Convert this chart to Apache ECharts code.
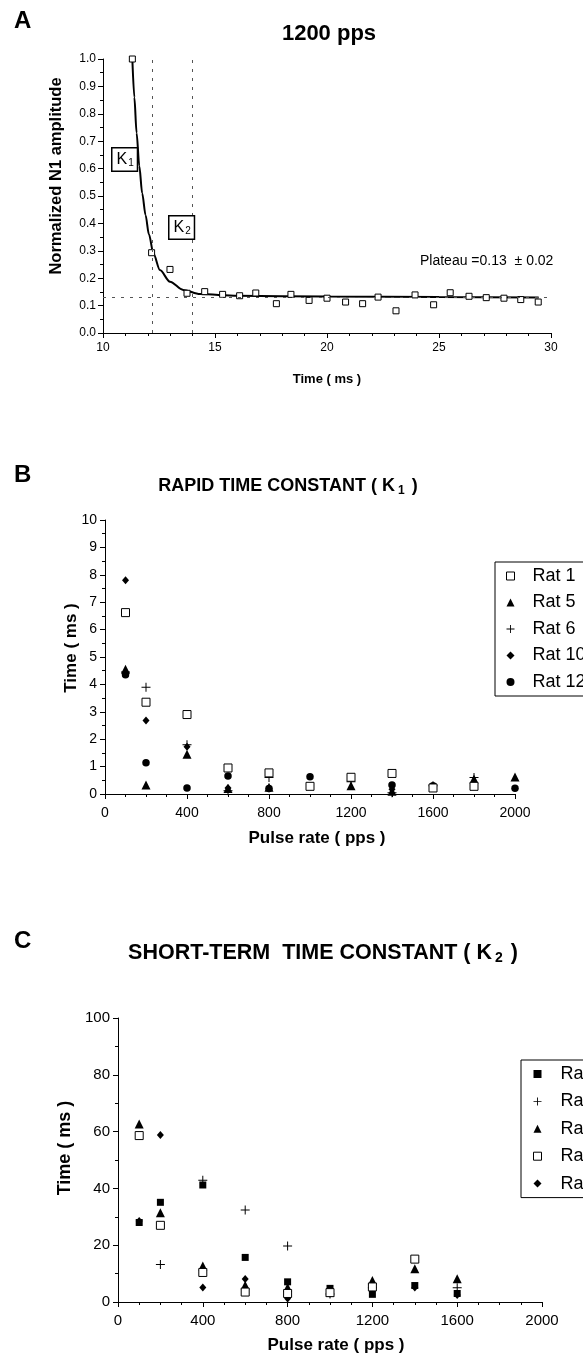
<!DOCTYPE html>
<html>
<head>
<meta charset="utf-8">
<script src="https://cdn.jsdelivr.net/npm/echarts@6/dist/echarts.min.js"></script>
<style>
html, body { margin: 0; padding: 0; background: #fff; }
#main { width: 583px; height: 1361px; }
</style>
</head>
<body>
<div id="main"></div>
<script>
// ---- panel A : 1200 pps, normalized N1 amplitude vs time
var timeA = [11.31, 12.17, 12.99, 13.75, 14.54, 15.34, 16.10, 16.82, 17.74, 18.39, 19.2, 20.0,
  20.83, 21.59, 22.28, 23.08, 23.93, 24.76, 25.5, 26.34, 27.11, 27.9, 28.65, 29.43];
var ampA = [1.0, 0.293, 0.232, 0.145, 0.151, 0.141, 0.136, 0.146, 0.107, 0.141, 0.119, 0.127,
  0.113, 0.107, 0.131, 0.081, 0.139, 0.103, 0.147, 0.134, 0.129, 0.127, 0.122, 0.113];
// fitted curve
var fitTime = [11.31, 11.40, 11.50, 11.62, 11.75, 11.90, 12.05, 12.25, 12.54, 12.99, 13.58, 14.33, 16.0, 20.0, 25.0, 29.45];
var fitAmp = [1.0, 0.86, 0.73, 0.61, 0.51, 0.43, 0.36, 0.29, 0.23, 0.187, 0.157, 0.142, 0.136, 0.133, 0.131, 0.130];
var k1Line = 12.2;
var k2Line = 14.0;
var plateau = 0.13;

// ---- panel B : rapid time constant K1
var rateB = [100, 200, 400, 600, 800, 1000, 1200, 1400, 1600, 1800, 2000];
var rat1B  = [6.62, 3.35, 2.9, 0.95, 0.77, 0.28, 0.61, 0.75, 0.22, 0.28, null];
var rat5B  = [4.55, 0.33, 1.45, 0.2, 0.25, null, 0.3, 0.1, null, 0.55, 0.62];
var rat6B  = [4.45, 3.9, 1.8, 0.12, 0.6, null, 0.45, 0.05, 0.3, 0.6, null];
var rat10B = [7.8, 2.68, 1.72, 0.22, 0.2, null, null, 0.17, null, null, null];
var rat12B = [4.35, 1.14, 0.22, 0.66, 0.2, 0.63, null, 0.33, 0.3, null, 0.21];

// ---- panel C : short-term time constant K2
var rateC = [100, 200, 400, 600, 800, 1000, 1200, 1400, 1600];
var rat3C  = [28.0, 35.1, 41.2, 15.7, 7.1, 4.8, 2.7, 5.8, 3.0];
var rat6C  = [null, 13.2, 42.9, 32.4, 19.7, 2.8, 5.0, null, 5.0];
var rat5C  = [62.7, 31.4, 12.7, 5.9, 5.1, 3.5, 7.6, 11.7, 8.2];
var rat1C  = [58.6, 27.0, 10.4, 3.5, 3.0, 3.3, 5.3, 15.1, null];
var rat10C = [28.5, 58.8, 5.1, 8.1, 1.2, 3.0, null, 5.1, 2.5];

var FONT = 'Liberation Sans, Arial, sans-serif';
var PLUS = 'path://M4,0H5V9H4Z M0,4H9V5H0Z';

function pairs(xs, ys) {
  var out = [];
  for (var i = 0; i < xs.length; i++) {
    if (ys[i] != null) out.push([xs[i], ys[i]]);
  }
  return out;
}

function axis(opt) {
  return {
    type: 'value',
    gridIndex: opt.grid,
    min: opt.min,
    max: opt.max,
    interval: opt.interval,
    name: opt.name,
    nameLocation: 'middle',
    nameGap: opt.nameGap,
    nameMoveOverlap: false,
    nameTextStyle: {
      color: '#000', fontFamily: FONT, fontWeight: 'bold', fontSize: opt.nameSize,
      padding: [0, 0, 0, opt.shift || 0]   // pushes the name along its own direction
    },
    axisLine: { show: true, onZero: false, lineStyle: { color: '#000', width: 1 } },
    axisTick: { show: true, inside: false, length: 5, lineStyle: { color: '#000', width: 1 } },
    minorTick: { show: true, splitNumber: opt.minor, length: 3, lineStyle: { color: '#000', width: 1 } },
    splitLine: { show: false },
    minorSplitLine: { show: false },
    axisLabel: {
      show: true, color: '#000', fontFamily: FONT, fontSize: opt.labelSize, margin: opt.margin,
      formatter: opt.formatter || function (v) { return String(v); }
    }
  };
}

function scatter(name, xi, yi, data, symbol, size, open) {
  return {
    name: name,
    type: 'scatter',
    xAxisIndex: xi,
    yAxisIndex: yi,
    data: data,
    symbol: symbol,
    symbolSize: size,
    itemStyle: open
      ? { color: '#fff', borderColor: '#000', borderWidth: 1, opacity: 1 }
      : { color: '#000', borderWidth: 0, opacity: 1 },
    z: open ? 3 : 2
  };
}

// symbol sits at padLeft + 4, text is pushed right with its own padding
function legend(left, top, names, gap, padLeft, textPad) {
  return {
    show: true,
    orient: 'vertical',
    left: left,
    top: top,
    data: names,
    itemWidth: 8,
    itemHeight: 8,
    itemGap: gap,
    symbolKeepAspect: true,
    itemStyle: { borderWidth: 1 },
    padding: [5, 60, 5, padLeft],
    borderColor: '#000',
    borderWidth: 1,
    backgroundColor: '#fff',
    selectedMode: false,
    textStyle: { color: '#000', fontFamily: FONT, fontSize: 18, lineHeight: 18, padding: [0, 0, 0, textPad] }
  };
}

var myChart = echarts.init(document.getElementById('main'), null, { renderer: 'canvas' });

var option = {
  backgroundColor: '#fff',
  animation: false,
  textStyle: { fontFamily: FONT },
  title: [
    { text: 'A', left: 9, top: 4, textStyle: { fontSize: 24, fontWeight: 'bold', color: '#000', fontFamily: FONT } },
    { text: '1200 pps', left: 324, top: 18, textAlign: 'center',
      textStyle: { fontSize: 22, fontWeight: 'bold', color: '#000', fontFamily: FONT } },
    { text: 'B', left: 9, top: 458, textStyle: { fontSize: 24, fontWeight: 'bold', color: '#000', fontFamily: FONT } },
    { text: '{a|RAPID TIME CONSTANT ( K}{s|1}{a| )}', left: 283, top: 471, textAlign: 'center',
      textStyle: { rich: {
        a: { fontSize: 18, fontWeight: 'bold', color: '#000', fontFamily: FONT },
        s: { fontSize: 12, color: '#000', fontFamily: FONT, padding: [9, 2, 0, 3] }
      } } },
    { text: 'C', left: 9, top: 924, textStyle: { fontSize: 24, fontWeight: 'bold', color: '#000', fontFamily: FONT } },
    { text: '{a|SHORT-TERM  TIME CONSTANT ( K}{s|2}{a| )}', left: 318, top: 936, textAlign: 'center',
      textStyle: { rich: {
        a: { fontSize: 21.5, fontWeight: 'bold', color: '#000', fontFamily: FONT },
        s: { fontSize: 14, color: '#000', fontFamily: FONT, padding: [10, 2, 0, 3] }
      } } }
  ],
  grid: [
    { left: 103, top: 59, width: 448, height: 274, outerBoundsMode: 'none', containLabel: false },
    { left: 105, top: 520, width: 410, height: 274, outerBoundsMode: 'none', containLabel: false },
    { left: 118, top: 1018, width: 424, height: 284, outerBoundsMode: 'none', containLabel: false }
  ],
  xAxis: [
    axis({ grid: 0, min: 10, max: 30, interval: 5, minor: 5, name: 'Time ( ms )', nameGap: 40, nameSize: 13, labelSize: 12, margin: 9 }),
    axis({ grid: 1, min: 0, max: 2000, interval: 400, minor: 4, name: 'Pulse rate ( pps )', nameGap: 36, nameSize: 17, labelSize: 14, margin: 12, shift: 14 }),
    axis({ grid: 2, min: 0, max: 2000, interval: 400, minor: 4, name: 'Pulse rate ( pps )', nameGap: 35, nameSize: 17, labelSize: 15, margin: 11, shift: 12 })
  ],
  yAxis: [
    axis({ grid: 0, min: 0, max: 1, interval: 0.1, minor: 2, name: 'Normalized N1 amplitude', nameGap: 38, nameSize: 16.5, labelSize: 12, margin: 7, shift: 40,
      formatter: function (v) { return v.toFixed(1); } }),
    axis({ grid: 1, min: 0, max: 10, interval: 1, minor: 2, name: 'Time ( ms )', nameGap: 25, nameSize: 17, labelSize: 14, margin: 8, shift: 18 }),
    axis({ grid: 2, min: 0, max: 100, interval: 20, minor: 2, name: 'Time ( ms )', nameGap: 44, nameSize: 18, labelSize: 15, margin: 8, shift: 24 })
  ],
  legend: [
    legend(495, 562, ['Rat 1', 'Rat 5', 'Rat 6', 'Rat 10', 'Rat 12'], 8.5, 11, 13),
    legend(521, 1060, ['Rat 3', 'Rat 6', 'Rat 5', 'Rat 1', 'Rat 10'], 9.4, 12, 14)
  ],
  graphic: [
    { type: 'text', left: 111, top: 147, z: 10,
      style: { text: '{k|K}{s|1}', rich: {
        k: { fontSize: 16, fontFamily: FONT, fill: '#000' },
        s: { fontSize: 10, fontFamily: FONT, fill: '#000', padding: [7, 0, 0, 1] }
      }, borderColor: '#000', borderWidth: 1.5, padding: [3, 3, 2, 4], backgroundColor: '#fff' } },
    { type: 'text', left: 168, top: 215, z: 10,
      style: { text: '{k|K}{s|2}', rich: {
        k: { fontSize: 16, fontFamily: FONT, fill: '#000' },
        s: { fontSize: 10, fontFamily: FONT, fill: '#000', padding: [7, 0, 0, 1] }
      }, borderColor: '#000', borderWidth: 1.5, padding: [3, 3, 2, 4], backgroundColor: '#fff' } },
    { type: 'text', left: 420, top: 254, z: 10,
      style: { text: 'Plateau =0.13  \u00b1 0.02', fontSize: 14, fontFamily: FONT, fill: '#000' } }
  ],
  series: [
    {
      name: 'fit',
      type: 'line',
      xAxisIndex: 0,
      yAxisIndex: 0,
      data: pairs(fitTime, fitAmp),
      smooth: 0.3,
      smoothMonotone: 'x',
      showSymbol: false,
      symbol: 'none',
      lineStyle: { color: '#000', width: 2 },
      z: 2,
      markLine: {
        silent: true,
        symbol: 'none',
        label: { show: false },
        lineStyle: { color: '#555', width: 1, type: [3, 6] },
        data: [{ xAxis: k1Line }, { xAxis: k2Line }, { yAxis: plateau }]
      }
    },
    scatter('N1', 0, 0, pairs(timeA, ampA), 'rect', 6, true),

    scatter('Rat 1', 1, 1, pairs(rateB, rat1B), 'rect', 8, true),
    scatter('Rat 5', 1, 1, pairs(rateB, rat5B), 'triangle', 9, false),
    scatter('Rat 6', 1, 1, pairs(rateB, rat6B), PLUS, 9, false),
    scatter('Rat 10', 1, 1, pairs(rateB, rat10B), 'diamond', [7, 8], false),
    scatter('Rat 12', 1, 1, pairs(rateB, rat12B), 'circle', 7.5, false),

    scatter('Rat 3', 2, 2, pairs(rateC, rat3C), 'rect', 7, false),
    scatter('Rat 6', 2, 2, pairs(rateC, rat6C), PLUS, 9, false),
    scatter('Rat 5', 2, 2, pairs(rateC, rat5C), 'triangle', 9, false),
    scatter('Rat 1', 2, 2, pairs(rateC, rat1C), 'rect', 8, true),
    scatter('Rat 10', 2, 2, pairs(rateC, rat10C), 'diamond', [7, 8], false)
  ]
};

myChart.setOption(option);
</script>
</body>
</html>
